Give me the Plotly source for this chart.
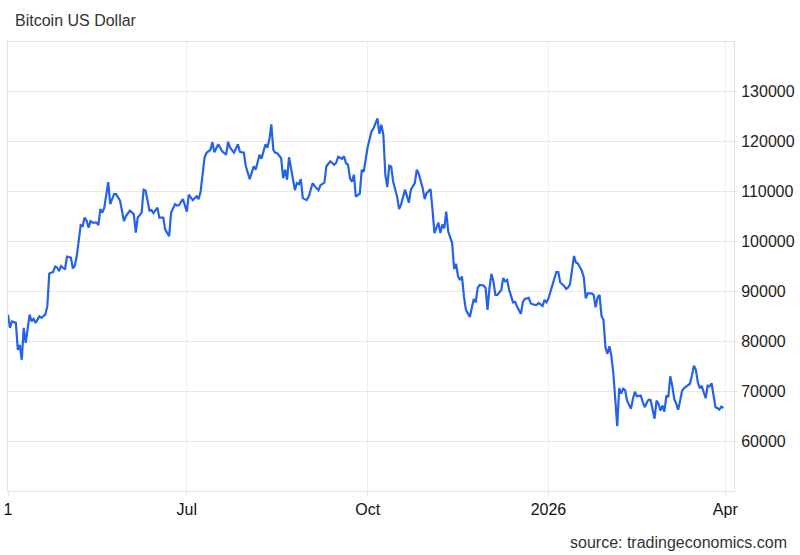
import pandas as pd
import plotly.graph_objects as go

START = "2025-04-01"
# days since START
days = [0, 1, 2, 4, 5, 6, 7, 8, 9, 11, 12, 13, 14, 16, 17, 19, 20, 21, 23, 24, 25, 26, 27, 29, 30,
        32, 33, 34, 35, 37, 38, 39, 40, 41, 42, 43, 45, 46, 47, 48, 49, 51, 52, 54, 55, 57, 59, 60,
        62, 64, 65, 66, 68, 69, 70, 72, 73, 74, 76, 77, 79, 80, 82, 83, 85, 86, 87, 89, 90, 91, 92,
        94, 96, 97, 98, 100, 101, 103, 104, 105, 107, 109, 111, 112, 113, 115, 117, 118, 120, 121,
        123, 124, 125, 126, 128, 129, 131, 132, 133, 134, 135, 136, 137, 139, 140, 141, 142, 143,
        144, 146, 147, 148, 149, 150, 152, 153, 155, 156, 158, 159, 161, 162, 164, 166, 167, 168,
        170, 171, 172, 173, 174, 175, 176, 177, 179, 180, 181, 183, 185, 186, 188, 189, 190, 191,
        192, 193, 194, 195, 196, 198, 199, 200, 202, 204, 205, 207, 208, 209, 211, 212, 213, 215,
        216, 217, 219, 220, 221, 222, 223, 224, 226, 227, 228, 229, 230, 231, 232, 233, 235, 236,
        237, 238, 239, 240, 242, 243, 244, 245, 246, 247, 248, 249, 251, 252, 253, 254, 255, 257,
        258, 259, 260, 261, 262, 263, 265, 266, 268, 269, 270, 272, 273, 274, 275, 276, 277, 279,
        280, 281, 283, 284, 285, 286, 288, 289, 290, 292, 293, 294, 295, 297, 298, 299, 300, 301,
        302, 303, 304, 305, 306, 307, 308, 309, 310, 311, 312, 313, 314, 315, 317, 318, 319, 320,
        322, 323, 324, 325, 326, 327, 328, 329, 330, 331, 332, 333, 334, 335, 336, 337, 338, 339,
        340, 341, 342, 343, 344, 346, 347, 348, 349, 350, 351, 352, 353, 354, 355, 356, 357, 358,
        359, 360, 361, 362, 363, 364]
prices = [85370, 82700, 84000, 83700, 78300, 79300, 76300, 82700, 79700, 85370, 84000, 84500, 83700,
          85000, 84700, 85400, 87000, 93600, 93900, 95000, 94800, 94100, 95100, 94400, 97000,
          96800, 94600, 95200, 97100, 103300, 103100, 104800, 104200, 102800, 104100, 103800,
          103800, 103300, 106500, 105800, 106800, 111900, 107500, 109500, 109500, 108200, 104100,
          105100, 106200, 105500, 101800, 104800, 105800, 110400, 110200, 106200, 106300, 105700,
          106800, 104800, 104800, 102400, 101100, 105800, 107500, 107200, 107300, 108500, 107300,
          106000, 109400, 108300, 109100, 108500, 110000, 116800, 117800, 118400, 119900, 117900,
          119500, 118100, 117400, 120000, 118800, 117800, 119500, 118000, 117800, 115100, 112500,
          113800, 115100, 114400, 117400, 116600, 119500, 118800, 120500, 123500, 118400, 117800,
          117700, 116700, 112700, 114400, 112400, 116900, 114400, 110300, 111700, 111500, 112500,
          108700, 108300, 109000, 111700, 111100, 110300, 111300, 111800, 115100, 116100, 115400,
          115800, 117000, 116600, 117100, 115700, 115400, 112700, 112000, 113400, 109000, 109600,
          114400, 114000, 118900, 122100, 122700, 124700, 121600, 123400, 121400, 113400, 110900,
          115200, 115000, 112000, 109000, 106500, 107400, 110400, 107800, 110400, 111700, 114400,
          113600, 110700, 108500, 109700, 110500, 106400, 101700, 103800, 101700, 103400, 102700,
          106000, 102000, 99700, 94500, 95500, 93000, 92300, 93000, 89000, 86300, 84900, 87000,
          88500, 87800, 90700, 91300, 91200, 90700, 86300, 90700, 93500, 92000, 89300, 89300,
          90300, 92700, 92000, 92300, 90300, 87800, 87900, 87000, 86300, 85500, 87900, 88500,
          88700, 87600, 87300, 87300, 87700, 87100, 88300, 87800, 88600, 90000, 91200, 93900,
          93900, 91800, 91100, 90500, 90800, 91500, 97100, 95800, 95600, 94100, 92800, 88600,
          89600, 89600, 89300, 86800, 88800, 89300, 85100, 84300, 78800, 77500, 79000, 77100,
          73700, 69100, 63000, 70600, 69500, 70500, 70200, 68100, 66500, 68500, 69900, 69000,
          69100, 67800, 66800, 67700, 68300, 68200, 66500, 64500, 68100, 67500, 66100, 67100,
          65900, 69100, 68800, 73000, 71100, 68500, 67500, 66300, 68100, 70100, 70600, 71100,
          71500, 73100, 75100, 74300, 71800, 70600, 71100, 69800, 68600, 71100, 71000, 71600,
          69100, 66800, 66600, 66300, 66900, 66600]

x_tick_dates = ["2025-04-01", "2025-07-01", "2025-10-01", "2026-01-01", "2026-04-01"]
x_tick_labels = ["1", "Jul", "Oct", "2026", "Apr"]
y_ticks = [60000, 70000, 80000, 90000, 100000, 110000, 120000, 130000]
x_range = ["2025-04-01", "2026-04-05 10:00"]
y_range = [50000, 140000]

dates = pd.Timestamp(START) + pd.to_timedelta(days, unit="D")

FONT = "Arial, Liberation Sans, Helvetica, sans-serif"

fig = go.Figure()
fig.add_trace(go.Scatter(x=dates, y=prices, mode="lines",
                         line=dict(color="#2462ea", width=2.2), hoverinfo="skip"))

fig.update_layout(
    width=800, height=555,
    margin=dict(l=8, r=66, t=42, b=64),
    paper_bgcolor="white", plot_bgcolor="white",
    showlegend=False,
    font=dict(family=FONT, size=16, color="#222"),
    title=dict(text="Bitcoin US Dollar", xref="container", yref="container",
               x=15 / 800, y=1 - 20 / 555, xanchor="left", yanchor="middle",
               font=dict(family=FONT, size=16, color="#333")),
    xaxis=dict(type="date", range=x_range, tickvals=x_tick_dates, ticktext=x_tick_labels,
               showgrid=True, gridcolor="#efefef", gridwidth=1,
               showline=True, linecolor="#e3e3e3", linewidth=1, mirror=True,
               ticks="outside", ticklen=4, tickcolor="#e3e3e3",
               tickfont=dict(family=FONT, size=16, color="#111"), zeroline=False,
               automargin=False),
    yaxis=dict(side="right", range=y_range, tickvals=y_ticks,
               ticktext=[str(v) for v in y_ticks],
               showgrid=True, gridcolor="#e8e8e8", gridwidth=1,
               showline=True, linecolor="#e3e3e3", linewidth=1, mirror=True,
               ticks="outside", ticklen=3, tickcolor="#e8e8e8",
               tickfont=dict(family=FONT, size=16, color="#222"), zeroline=False,
               automargin=False),
    annotations=[dict(text="source: tradingeconomics.com", xref="paper", yref="paper",
                      x=(789 - 8) / 726, y=(491 - 542) / 449, xanchor="right", yanchor="middle",
                      showarrow=False, font=dict(family=FONT, size=16, color="#333"))],
)

fig.write_html("out.html")
